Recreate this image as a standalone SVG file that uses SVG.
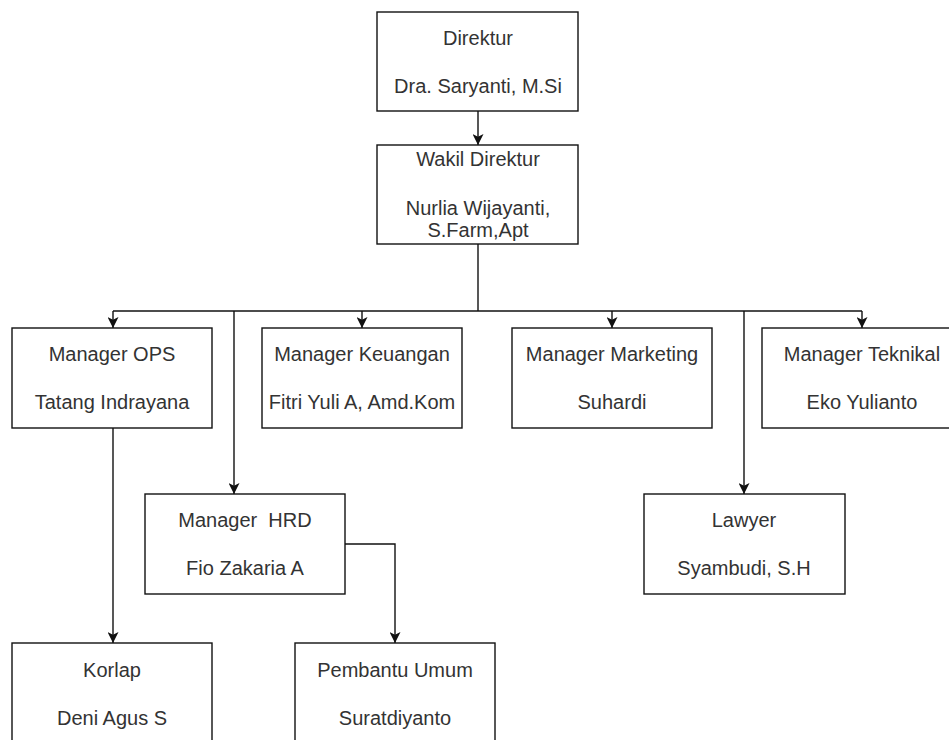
<svg xmlns="http://www.w3.org/2000/svg" width="949" height="740" viewBox="0 0 949 740">
<style>
.box{fill:#fff;stroke:#111;stroke-width:1.4}
.t{font-family:"Liberation Sans",Arial,sans-serif;font-size:20px;fill:#333;text-anchor:middle}
.c{fill:none;stroke:#111;stroke-width:1.4}
</style>
<defs>
<marker id="ah" viewBox="0 0 10 10" refX="10" refY="5" markerWidth="12" markerHeight="11" markerUnits="userSpaceOnUse" orient="auto">
<path d="M0,0 L10,5 L0,10 L2.5,5 Z" fill="#111"/>
</marker>
</defs>
<rect width="949" height="740" fill="#fff"/>
<g id="connectors">
<path class="c" d="M478,111 V145" marker-end="url(#ah)"/>
<path class="c" d="M478,244 V311"/>
<path class="c" d="M113,311 H862"/>
<path class="c" d="M113,311 V328" marker-end="url(#ah)"/>
<path class="c" d="M362,311 V328" marker-end="url(#ah)"/>
<path class="c" d="M612,311 V328" marker-end="url(#ah)"/>
<path class="c" d="M862,311 V328" marker-end="url(#ah)"/>
<path class="c" d="M234,311 V494" marker-end="url(#ah)"/>
<path class="c" d="M744,311 V494" marker-end="url(#ah)"/>
<path class="c" d="M113,428 V643" marker-end="url(#ah)"/>
<path class="c" d="M345,544 H395 V643" marker-end="url(#ah)"/>
</g>
<g id="direktur">
<rect class="box" x="377" y="12" width="201" height="99"/>
<text class="t" x="478" y="45">Direktur</text>
<text class="t" x="478" y="93">Dra. Saryanti, M.Si</text>
</g>
<g id="wakil">
<rect class="box" x="377" y="145" width="201" height="99"/>
<text class="t" x="478" y="166">Wakil Direktur</text>
<text class="t" x="478" y="215">Nurlia Wijayanti,</text>
<text class="t" x="478" y="237">S.Farm,Apt</text>
</g>
<g id="ops">
<rect class="box" x="12" y="328" width="200" height="100"/>
<text class="t" x="112" y="361">Manager OPS</text>
<text class="t" x="112" y="409">Tatang Indrayana</text>
</g>
<g id="keuangan">
<rect class="box" x="262" y="328" width="200" height="100"/>
<text class="t" x="362" y="361">Manager Keuangan</text>
<text class="t" x="362" y="409">Fitri Yuli A, Amd.Kom</text>
</g>
<g id="marketing">
<rect class="box" x="512" y="328" width="200" height="100"/>
<text class="t" x="612" y="361">Manager Marketing</text>
<text class="t" x="612" y="409">Suhardi</text>
</g>
<g id="teknikal">
<rect class="box" x="762" y="328" width="200" height="100"/>
<text class="t" x="862" y="361">Manager Teknikal</text>
<text class="t" x="862" y="409">Eko Yulianto</text>
</g>
<g id="hrd">
<rect class="box" x="145" y="494" width="200" height="100"/>
<text class="t" x="245" y="527" xml:space="preserve">Manager  HRD</text>
<text class="t" x="245" y="575">Fio Zakaria A</text>
</g>
<g id="lawyer">
<rect class="box" x="644" y="494" width="201" height="100"/>
<text class="t" x="744" y="527">Lawyer</text>
<text class="t" x="744" y="575">Syambudi, S.H</text>
</g>
<g id="korlap">
<rect class="box" x="12" y="643" width="200" height="100"/>
<text class="t" x="112" y="677">Korlap</text>
<text class="t" x="112" y="725">Deni Agus S</text>
</g>
<g id="pembantu">
<rect class="box" x="295" y="643" width="200" height="100"/>
<text class="t" x="395" y="677">Pembantu Umum</text>
<text class="t" x="395" y="725">Suratdiyanto</text>
</g>
</svg>
